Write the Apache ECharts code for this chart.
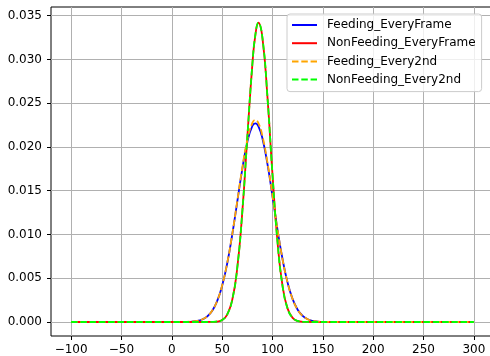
<!DOCTYPE html>
<html>
<head>
<meta charset="utf-8">
<script src="https://cdn.jsdelivr.net/npm/echarts@6/dist/echarts.min.js"></script>
<style>
  html, body { margin: 0; padding: 0; background: #fff; }
  #chart { width: 490px; height: 356px; }
</style>
</head>
<body>
<div id="chart"></div>
<script>
// x positions the curves were read at
const xs = [-100, 0, 10, 15, 20, 25, 30, 35, 40, 45, 50, 55, 60, 65, 70, 75, 80, 83, 86,
  90, 95, 100, 105, 110, 115, 120, 125, 130, 135, 140, 145, 150, 155, 160, 200, 300];

const feedingEveryFrame = [0, 0, 0.000005, 0.000016, 0.000046, 0.000118, 0.000281, 0.000619,
  0.00126, 0.00238, 0.00415, 0.00669, 0.00997, 0.01373, 0.01748, 0.02058, 0.0224, 0.0227, 0.02236,
  0.02097, 0.01804, 0.01434, 0.01054, 0.00717, 0.0045, 0.00262, 0.00141, 0.0007, 0.00032,
  0.000136, 0.000053, 0.000019, 0.000007, 0.000002, 0, 0];

const nonFeedingEveryFrame = [0, 0, 0, 0, 0, 0, 0, 0.000002, 0.00001, 0.000055, 0.000237,
  0.00085, 0.00252, 0.00617, 0.01255, 0.02112, 0.02944, 0.03282, 0.0342,
  0.03248, 0.0257, 0.01684, 0.00914, 0.00411, 0.00153, 0.00047, 0.00012, 0.000025, 0.000004,
  0, 0, 0, 0, 0, 0, 0];

const feedingEvery2nd = [0, 0, 0.000005, 0.000017, 0.000048, 0.000122, 0.00029, 0.00063,
  0.00128, 0.00241, 0.00419, 0.00673, 0.01002, 0.01382, 0.01762, 0.02082, 0.02275, 0.0231, 0.02272,
  0.02125, 0.01822, 0.01442, 0.01056, 0.00716, 0.00449, 0.00261, 0.0014, 0.0007, 0.00032,
  0.000136, 0.000053, 0.000019, 0.000007, 0.000002, 0, 0];

const nonFeedingEvery2nd = [0, 0, 0, 0, 0, 0, 0, 0.000002, 0.00001, 0.000056, 0.00024,
  0.00086, 0.00254, 0.0062, 0.01258, 0.02114, 0.02945, 0.03283, 0.03418,
  0.03246, 0.02568, 0.01683, 0.00913, 0.0041, 0.00153, 0.00047, 0.00012, 0.000025, 0.000004,
  0, 0, 0, 0, 0, 0, 0];

const xTicks = [-100, -50, 0, 50, 100, 150, 200, 250, 300];
const yTicks = [0, 0.005, 0.01, 0.015, 0.02, 0.025, 0.03, 0.035];

const FONT = 'DejaVu Sans';

// pair xs with one series' values
function toPoints(values) {
  return xs.map((x, i) => [x, values[i]]);
}

function makeSeries(name, values, color, dashed) {
  return {
    name: name,
    type: 'line',
    data: toPoints(values),
    showSymbol: false,
    symbol: 'none',
    smooth: true,
    lineStyle: {
      color: color,
      width: 1.8,
      type: dashed ? [6.5, 2.8] : 'solid'
    },
    itemStyle: { color: color }
  };
}

const chart = echarts.init(document.getElementById('chart'), null, { renderer: 'canvas' });

const option = {
  animation: false,
  backgroundColor: '#fff',
  textStyle: { fontFamily: FONT },
  grid: {
    left: 51,
    top: 7,
    width: 443,
    bottom: 20,
    containLabel: false,
    outerBoundsMode: 'none',
    show: true,
    borderColor: '#000',
    borderWidth: 1,
    backgroundColor: 'transparent'
  },
  legend: {
    orient: 'vertical',
    left: 287,
    top: 14,
    itemWidth: 25,
    itemHeight: 12,
    itemGap: 6.2,
    padding: [5, 6, 6, 4],
    backgroundColor: 'rgba(255,255,255,0.8)',
    borderColor: '#cccccc',
    borderWidth: 1,
    borderRadius: 3,
    itemStyle: { color: 'transparent', borderWidth: 0, opacity: 0 },
    textStyle: {
      fontFamily: FONT,
      fontSize: 12,
      color: '#000',
      padding: [0, 0, 0, 5]
    },
    data: ['Feeding_EveryFrame', 'NonFeeding_EveryFrame', 'Feeding_Every2nd', 'NonFeeding_Every2nd']
  },
  xAxis: {
    type: 'value',
    position: 'bottom',
    min: -120,
    max: 320,
    axisLine: { show: false, onZero: false },
    axisTick: {
      show: true,
      length: 4,
      customValues: xTicks,
      lineStyle: { color: '#000', width: 1 }
    },
    axisLabel: {
      customValues: xTicks,
      margin: 8,
      fontFamily: FONT,
      fontSize: 12,
      color: '#000',
      formatter: v => (v < 0 ? '\u2212' + Math.abs(v) : String(v))
    },
    splitLine: {
      show: true,
      lineStyle: { color: '#b0b0b0', width: 1 }
    }
  },
  yAxis: {
    type: 'value',
    position: 'left',
    min: -0.0016,
    max: 0.036,
    axisLine: { show: false, onZero: false },
    axisTick: {
      show: true,
      length: 4,
      customValues: yTicks,
      lineStyle: { color: '#000', width: 1 }
    },
    axisLabel: {
      customValues: yTicks,
      margin: 9,
      fontFamily: FONT,
      fontSize: 12,
      color: '#000',
      formatter: v => v.toFixed(3)
    },
    splitLine: {
      show: true,
      lineStyle: { color: '#b0b0b0', width: 1 }
    }
  },
  series: [
    makeSeries('Feeding_EveryFrame', feedingEveryFrame, '#0000ff', false),
    makeSeries('NonFeeding_EveryFrame', nonFeedingEveryFrame, '#ff0000', false),
    makeSeries('Feeding_Every2nd', feedingEvery2nd, '#ffa500', true),
    makeSeries('NonFeeding_Every2nd', nonFeedingEvery2nd, '#00ff00', true)
  ]
};

chart.setOption(option);
</script>
</body>
</html>
